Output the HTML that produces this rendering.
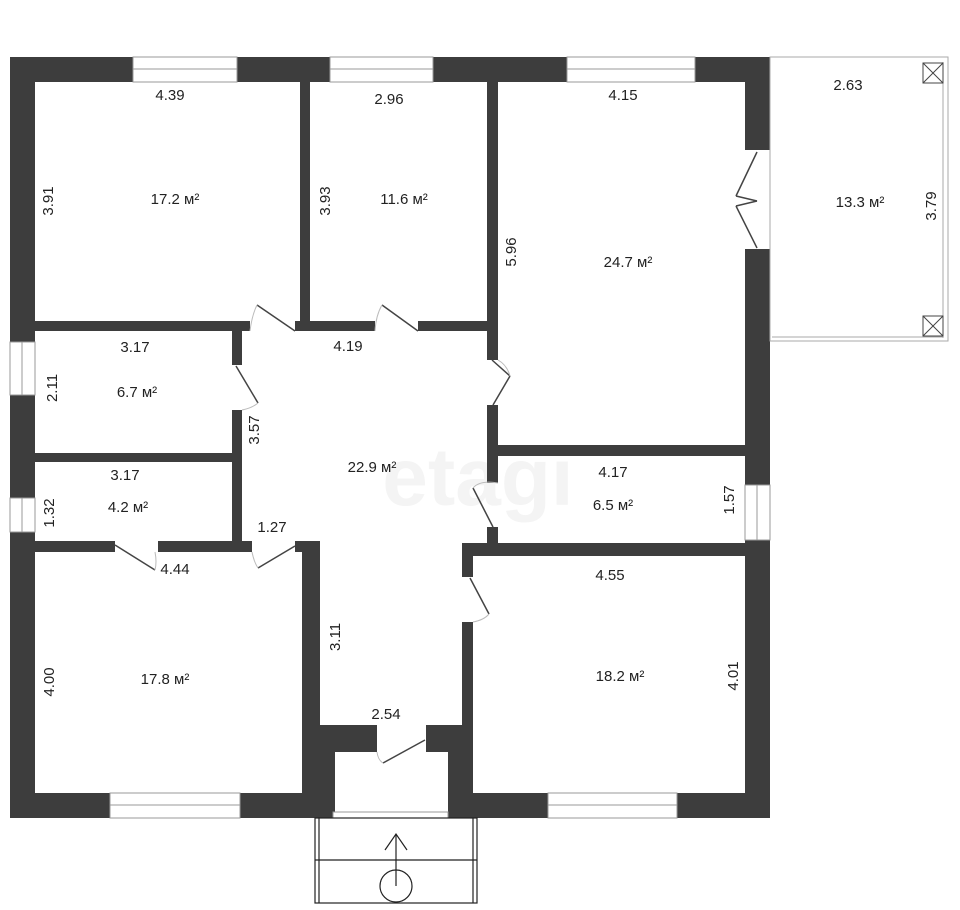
<!DOCTYPE html>
<html><head><meta charset="utf-8"><style>
html,body{margin:0;padding:0;background:#fff;width:960px;height:910px;overflow:hidden}
svg{display:block}
text{font-family:"Liberation Sans",sans-serif;font-size:15px;fill:#222}
</style></head><body>
<svg width="960" height="910" viewBox="0 0 960 910" xmlns="http://www.w3.org/2000/svg">
<text x="478" y="505" text-anchor="middle" style="font-size:82px;font-weight:bold;fill:#f4f4f4">etagi</text>
<g fill="#3d3d3d">
<rect x="10" y="57" width="760" height="25"/>
<rect x="10" y="57" width="25" height="761"/>
<rect x="745" y="57" width="25" height="761"/>
<rect x="10" y="793" width="302" height="25"/>
<rect x="448" y="793" width="322" height="25"/>
<rect x="300" y="82" width="10" height="249"/>
<rect x="487" y="82" width="11" height="278"/>
<rect x="487" y="405" width="11" height="78"/>
<rect x="487" y="527" width="11" height="20"/>
<rect x="35" y="321" width="215" height="10"/>
<rect x="295" y="321" width="80" height="10"/>
<rect x="418" y="321" width="75" height="10"/>
<rect x="232" y="331" width="10" height="34"/>
<rect x="232" y="410" width="10" height="140"/>
<rect x="35" y="453" width="200" height="9"/>
<rect x="35" y="541" width="80" height="11"/>
<rect x="158" y="541" width="94" height="11"/>
<rect x="295" y="541" width="25" height="11"/>
<rect x="302" y="541" width="18" height="277"/>
<rect x="498" y="445" width="250" height="11"/>
<rect x="462" y="543" width="290" height="13"/>
<rect x="462" y="543" width="11" height="34"/>
<rect x="462" y="622" width="11" height="196"/>
<rect x="312" y="725" width="65" height="27"/>
<rect x="426" y="725" width="47" height="27"/>
<rect x="312" y="725" width="23" height="93"/>
<rect x="448" y="725" width="25" height="93"/>
</g>
<g fill="#fff" stroke="#999" stroke-width="1">
<rect x="133" y="57" width="104" height="25"/><line x1="133" y1="69" x2="237" y2="69"/>
<rect x="330" y="57" width="103" height="25"/><line x1="330" y1="69" x2="433" y2="69"/>
<rect x="567" y="57" width="128" height="25"/><line x1="567" y1="69" x2="695" y2="69"/>
<rect x="110" y="793" width="130" height="25"/><line x1="110" y1="805" x2="240" y2="805"/>
<rect x="548" y="793" width="129" height="25"/><line x1="548" y1="805" x2="677" y2="805"/>
<rect x="10" y="342" width="25" height="53"/><line x1="22" y1="342" x2="22" y2="395"/>
<rect x="10" y="498" width="25" height="34"/><line x1="22" y1="498" x2="22" y2="532"/>
<rect x="745" y="485" width="25" height="55"/><line x1="757" y1="485" x2="757" y2="540"/>
<rect x="745" y="150" width="25" height="99" stroke="none"/>
<rect x="335" y="752" width="113" height="66" stroke="none"/>
<rect x="333" y="812" width="115" height="6"/>
</g>
<g stroke="#444" stroke-width="1.5" fill="none">
<line x1="257" y1="305" x2="295" y2="331"/><line x1="382" y1="305" x2="418" y2="331"/>
<line x1="236" y1="366" x2="258" y2="403"/><line x1="492" y1="360" x2="510" y2="376"/><line x1="510" y1="376" x2="493" y2="405"/>
<line x1="473" y1="488" x2="493" y2="527"/><line x1="470" y1="578" x2="489" y2="614"/>
<line x1="115" y1="545" x2="155" y2="570"/><line x1="295" y1="546" x2="258" y2="568"/>
<line x1="425" y1="740" x2="383" y2="763"/>
<line x1="757" y1="152" x2="736" y2="196"/><line x1="736" y1="196" x2="757" y2="201"/>
<line x1="757" y1="248" x2="736" y2="206"/><line x1="736" y1="206" x2="757" y2="201"/>
</g>
<g stroke="#bbb" stroke-width="1" fill="none">
<path d="M242 410 Q252 408 258 403"/><path d="M498 360 Q507 365 510 376"/><path d="M498 483 Q480 480 473 488"/>
<path d="M473 622 Q484 620 489 614"/><path d="M155 552 Q157 562 155 570"/><path d="M252 552 Q254 562 258 568"/>
<path d="M250 331 Q252 315 257 305"/><path d="M375 331 Q376 315 382 305"/><path d="M377 752 Q378 760 383 763"/>
</g>
<g stroke="#aaa" fill="none">
<rect x="770" y="57" width="178" height="284"/><line x1="943" y1="62" x2="943" y2="338"/>
<line x1="772" y1="337" x2="943" y2="337"/>
<g stroke="#444"><rect x="923" y="63" width="20" height="20"/><line x1="923" y1="63" x2="943" y2="83"/><line x1="943" y1="63" x2="923" y2="83"/>
<rect x="923" y="316" width="20" height="20"/><line x1="923" y1="316" x2="943" y2="336"/><line x1="943" y1="316" x2="923" y2="336"/></g>
</g>
<g stroke="#222" fill="none" stroke-width="1.2">
<rect x="315" y="818" width="162" height="85"/><line x1="319" y1="818" x2="319" y2="903"/><line x1="473" y1="818" x2="473" y2="903"/>
<line x1="315" y1="860" x2="477" y2="860"/>
<circle cx="396" cy="886" r="16"/><line x1="396" y1="834" x2="396" y2="886"/>
<polyline points="385,850 396,834 407,850"/>
</g>
<g text-anchor="middle">
<text x="170" y="100">4.39</text><text x="389" y="104">2.96</text><text x="623" y="100">4.15</text><text x="848" y="90">2.63</text>
<text x="175" y="204">17.2 м²</text><text x="404" y="204">11.6 м²</text><text x="628" y="267">24.7 м²</text><text x="860" y="207">13.3 м²</text>
<text x="135" y="352">3.17</text><text x="348" y="351">4.19</text><text x="137" y="397">6.7 м²</text>
<text x="372" y="472">22.9 м²</text><text x="125" y="480">3.17</text><text x="613" y="477">4.17</text>
<text x="128" y="512">4.2 м²</text><text x="613" y="510">6.5 м²</text><text x="272" y="532">1.27</text>
<text x="175" y="574">4.44</text><text x="610" y="580">4.55</text><text x="165" y="684">17.8 м²</text><text x="620" y="681">18.2 м²</text>
<text x="386" y="719">2.54</text>
</g>
<g text-anchor="middle">
<text transform="translate(53,201) rotate(-90)">3.91</text>
<text transform="translate(330,201) rotate(-90)">3.93</text>
<text transform="translate(516,252) rotate(-90)">5.96</text>
<text transform="translate(936,206) rotate(-90)">3.79</text>
<text transform="translate(57,388) rotate(-90)">2.11</text>
<text transform="translate(259,430) rotate(-90)">3.57</text>
<text transform="translate(54,513) rotate(-90)">1.32</text>
<text transform="translate(734,500) rotate(-90)">1.57</text>
<text transform="translate(340,637) rotate(-90)">3.11</text>
<text transform="translate(54,682) rotate(-90)">4.00</text>
<text transform="translate(738,676) rotate(-90)">4.01</text>
</g>
</svg>
</body></html>
